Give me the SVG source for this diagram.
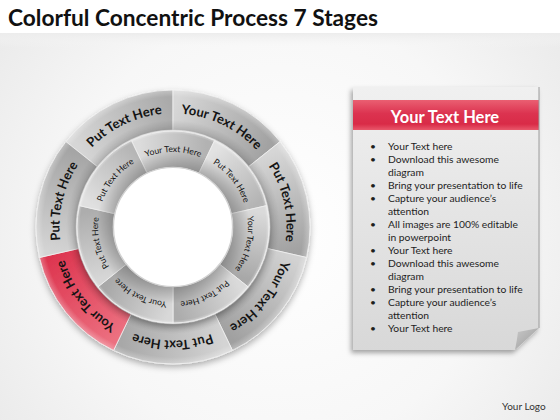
<svg xmlns="http://www.w3.org/2000/svg" width="560" height="420" viewBox="0 0 560 420">
<defs>
<style>
.t{font-family:Lato,"Open Sans","Liberation Sans",sans-serif;fill:#141414}
.ot{font-size:13px;font-weight:700}
.it{font-size:8.6px;font-weight:400}
.sep{stroke:#f0f0f0;stroke-width:0.8}
.bl{font-family:Lato,"Open Sans","Liberation Sans",sans-serif;font-size:10.3px;fill:#1e1e1e}
</style>
<radialGradient id="bg" cx="280" cy="230" r="360" gradientUnits="userSpaceOnUse">
<stop offset="0" stop-color="#ffffff"/><stop offset="0.6" stop-color="#f7f7f7"/><stop offset="1" stop-color="#e9e9e9"/>
</radialGradient>
<linearGradient id="band" x1="0" y1="0" x2="0" y2="1">
<stop offset="0" stop-color="#ececec"/><stop offset="1" stop-color="#f6f6f6" stop-opacity="0"/>
</linearGradient>
<linearGradient id="go1" gradientUnits="userSpaceOnUse" x1="80.8" y1="153.4" x2="173" y2="109"><stop offset="0" stop-color="#d6d6d6"/><stop offset="1" stop-color="#aaaaaa"/></linearGradient>
<linearGradient id="go2" gradientUnits="userSpaceOnUse" x1="173" y1="109" x2="265.2" y2="153.4"><stop offset="0" stop-color="#d7d7d7"/><stop offset="1" stop-color="#a2a2a2"/></linearGradient>
<linearGradient id="go3" gradientUnits="userSpaceOnUse" x1="265.2" y1="153.4" x2="288" y2="253.3"><stop offset="0" stop-color="#d6d6d6"/><stop offset="1" stop-color="#a2a2a2"/></linearGradient>
<linearGradient id="go4" gradientUnits="userSpaceOnUse" x1="288" y1="253.3" x2="224.2" y2="333.3"><stop offset="0" stop-color="#d2d2d2"/><stop offset="1" stop-color="#a0a0a0"/></linearGradient>
<linearGradient id="go5" gradientUnits="userSpaceOnUse" x1="224.2" y1="333.3" x2="121.8" y2="333.3"><stop offset="0" stop-color="#d4d4d4"/><stop offset="1" stop-color="#a8a8a8"/></linearGradient>
<linearGradient id="go6" gradientUnits="userSpaceOnUse" x1="121.8" y1="333.3" x2="58" y2="253.3"><stop offset="0" stop-color="#ec7080"/><stop offset="1" stop-color="#dd3650"/></linearGradient>
<linearGradient id="go7" gradientUnits="userSpaceOnUse" x1="58" y1="253.3" x2="80.8" y2="153.4"><stop offset="0" stop-color="#d4d4d4"/><stop offset="1" stop-color="#a5a5a5"/></linearGradient>
<linearGradient id="gi1" gradientUnits="userSpaceOnUse" x1="139.16" y1="156.72" x2="206.84" y2="156.72"><stop offset="0" stop-color="#dcdcdc"/><stop offset="1" stop-color="#b2b2b2"/></linearGradient>
<linearGradient id="gi2" gradientUnits="userSpaceOnUse" x1="206.84" y1="156.72" x2="249.04" y2="209.64"><stop offset="0" stop-color="#e2e2e2"/><stop offset="1" stop-color="#b4b4b4"/></linearGradient>
<linearGradient id="gi3" gradientUnits="userSpaceOnUse" x1="249.04" y1="209.64" x2="233.98" y2="275.63"><stop offset="0" stop-color="#dadada"/><stop offset="1" stop-color="#a8a8a8"/></linearGradient>
<linearGradient id="gi4" gradientUnits="userSpaceOnUse" x1="233.98" y1="275.63" x2="173" y2="305"><stop offset="0" stop-color="#dadada"/><stop offset="1" stop-color="#acacac"/></linearGradient>
<linearGradient id="gi5" gradientUnits="userSpaceOnUse" x1="173" y1="305" x2="112.02" y2="275.63"><stop offset="0" stop-color="#d8d8d8"/><stop offset="1" stop-color="#a8a8a8"/></linearGradient>
<linearGradient id="gi6" gradientUnits="userSpaceOnUse" x1="112.02" y1="275.63" x2="96.96" y2="209.64"><stop offset="0" stop-color="#d6d6d6"/><stop offset="1" stop-color="#adadad"/></linearGradient>
<linearGradient id="gi7" gradientUnits="userSpaceOnUse" x1="96.96" y1="209.64" x2="139.16" y2="156.72"><stop offset="0" stop-color="#e0e0e0"/><stop offset="1" stop-color="#b6b6b6"/></linearGradient>
<radialGradient id="innerShade" cx="173" cy="227" r="96" gradientUnits="userSpaceOnUse">
<stop offset="0.62" stop-color="#000" stop-opacity="0.22"/><stop offset="0.8" stop-color="#000" stop-opacity="0"/><stop offset="0.97" stop-color="#fff" stop-opacity="0"/><stop offset="1" stop-color="#fff" stop-opacity="0.35"/>
</radialGradient>
<radialGradient id="outerShade" cx="173" cy="227" r="137" gradientUnits="userSpaceOnUse">
<stop offset="0.7" stop-color="#000" stop-opacity="0.14"/><stop offset="0.78" stop-color="#000" stop-opacity="0"/><stop offset="0.95" stop-color="#fff" stop-opacity="0"/><stop offset="1" stop-color="#fff" stop-opacity="0.3"/>
</radialGradient>
<linearGradient id="paper" x1="0" y1="0" x2="0" y2="1">
<stop offset="0" stop-color="#f0f0f0"/><stop offset="1" stop-color="#d8d8d8"/>
</linearGradient>
<linearGradient id="red" x1="0" y1="0" x2="0" y2="1">
<stop offset="0" stop-color="#ea5f72"/><stop offset="0.45" stop-color="#dc3350"/><stop offset="0.8" stop-color="#d92b47"/><stop offset="1" stop-color="#e9586b"/>
</linearGradient>
<linearGradient id="curl" x1="0" y1="0" x2="1" y2="1">
<stop offset="0" stop-color="#c8c8c8"/><stop offset="1" stop-color="#9a9a9a"/>
</linearGradient>
<filter id="sh" x="-20%" y="-20%" width="140%" height="140%">
<feDropShadow dx="0" dy="3" stdDeviation="3" flood-color="#000" flood-opacity="0.3"/>
</filter>
<filter id="psh" x="-20%" y="-20%" width="140%" height="140%">
<feDropShadow dx="-2" dy="3" stdDeviation="2.5" flood-color="#000" flood-opacity="0.35"/>
</filter>
<path id="po" d="M 59.5 227 A 113.5 113.5 0 1 1 286.5 227 A 113.5 113.5 0 1 1 59.5 227 A 113.5 113.5 0 1 1 286.5 227 A 113.5 113.5 0 1 1 59.5 227"/>
<path id="pi" d="M 98 227 A 75 75 0 1 1 248 227 A 75 75 0 1 1 98 227 A 75 75 0 1 1 248 227 A 75 75 0 1 1 98 227"/>
</defs>

<rect width="560" height="420" fill="#ffffff"/>
<rect y="33" width="560" height="387" fill="url(#bg)"/>
<rect y="33" width="560" height="14" fill="url(#band)"/>

<text x="8" y="26" font-family="Lato,'Open Sans','Liberation Sans',sans-serif" font-size="22.7" font-weight="700" fill="#111">Colorful Concentric Process 7 Stages</text>

<g id="ring-outer" filter="url(#sh)">
<g id="o1"><path class="sep" fill="url(#go1)" d="M 65.89 141.58 A 137 137 0 0 1 173 90 L 173 130 A 97 97 0 0 0 97.16 166.52 Z"/></g>
<g id="o2"><path class="sep" fill="url(#go2)" d="M 173 90 A 137 137 0 0 1 280.11 141.58 L 248.84 166.52 A 97 97 0 0 0 173 130 Z"/></g>
<g id="o3"><path class="sep" fill="url(#go3)" d="M 280.11 141.58 A 137 137 0 0 1 306.57 257.49 L 267.57 248.58 A 97 97 0 0 0 248.84 166.52 Z"/></g>
<g id="o4"><path class="sep" fill="url(#go4)" d="M 306.57 257.49 A 137 137 0 0 1 232.44 350.43 L 215.09 314.39 A 97 97 0 0 0 267.57 248.58 Z"/></g>
<g id="o5"><path class="sep" fill="url(#go5)" d="M 232.44 350.43 A 137 137 0 0 1 113.56 350.43 L 130.91 314.39 A 97 97 0 0 0 215.09 314.39 Z"/></g>
<g id="o6"><path class="sep" fill="url(#go6)" d="M 113.56 350.43 A 137 137 0 0 1 39.43 257.49 L 78.43 248.58 A 97 97 0 0 0 130.91 314.39 Z"/></g>
<g id="o7"><path class="sep" fill="url(#go7)" d="M 39.43 257.49 A 137 137 0 0 1 65.89 141.58 L 97.16 166.52 A 97 97 0 0 0 78.43 248.58 Z"/></g>
</g>
<path d="M 173 90 A 137 137 0 1 1 172.99 90 Z M 173 130 A 97 97 0 1 0 173.01 130 Z" fill="url(#outerShade)" fill-rule="evenodd"/>

<g id="ring-inner" filter="url(#sh)">
<g id="i1"><path class="sep" fill="url(#gi1)" d="M 131.35 140.51 A 96 96 0 0 1 214.65 140.51 L 199.03 172.94 A 60 60 0 0 0 146.97 172.94 Z"/></g>
<g id="i2"><path class="sep" fill="url(#gi2)" d="M 214.65 140.51 A 96 96 0 0 1 266.59 205.64 L 231.50 213.65 A 60 60 0 0 0 199.03 172.94 Z"/></g>
<g id="i3"><path class="sep" fill="url(#gi3)" d="M 266.59 205.64 A 96 96 0 0 1 248.06 286.86 L 219.91 264.41 A 60 60 0 0 0 231.50 213.65 Z"/></g>
<g id="i4"><path class="sep" fill="url(#gi4)" d="M 248.06 286.86 A 96 96 0 0 1 173 323 L 173 287 A 60 60 0 0 0 219.91 264.41 Z"/></g>
<g id="i5"><path class="sep" fill="url(#gi5)" d="M 173 323 A 96 96 0 0 1 97.94 286.86 L 126.09 264.41 A 60 60 0 0 0 173 287 Z"/></g>
<g id="i6"><path class="sep" fill="url(#gi6)" d="M 97.94 286.86 A 96 96 0 0 1 79.41 205.64 L 114.50 213.65 A 60 60 0 0 0 126.09 264.41 Z"/></g>
<g id="i7"><path class="sep" fill="url(#gi7)" d="M 79.41 205.64 A 96 96 0 0 1 131.35 140.51 L 146.97 172.94 A 60 60 0 0 0 114.50 213.65 Z"/></g>
</g>
<path d="M 173 131 A 96 96 0 1 1 172.99 131 Z M 173 167 A 60 60 0 1 0 173.01 167 Z" fill="url(#innerShade)" fill-rule="evenodd"/>
<circle cx="173" cy="227" r="59.5" fill="#ffffff" stroke="#d0d0d0" stroke-width="1.2"/>

<g id="outer-labels" class="t ot" text-anchor="middle">
<text><textPath href="#po" startOffset="127.36">Put Text Here</textPath></text>
<text><textPath href="#po" startOffset="229.22">Your Text Here</textPath></text>
<text><textPath href="#po" startOffset="331.10">Put Text Here</textPath></text>
<text><textPath href="#po" startOffset="432.97">Your Text Here</textPath></text>
<text><textPath href="#po" startOffset="534.86">Put Text Here</textPath></text>
<text><textPath href="#po" startOffset="636.73">Your Text Here</textPath></text>
<text><textPath href="#po" startOffset="738.62">Put Text Here</textPath></text>
</g>
<g id="inner-labels" class="t it" text-anchor="middle">
<text><textPath href="#pi" startOffset="117.81">Your Text Here</textPath></text>
<text><textPath href="#pi" startOffset="185.13">Put Text Here</textPath></text>
<text><textPath href="#pi" startOffset="252.45">Your Text Here</textPath></text>
<text><textPath href="#pi" startOffset="319.77">Put Text Here</textPath></text>
<text><textPath href="#pi" startOffset="387.08">Your Text Here</textPath></text>
<text><textPath href="#pi" startOffset="454.40">Put Text Here</textPath></text>
<text><textPath href="#pi" startOffset="521.72">Put Text Here</textPath></text>
</g>

<g id="panel">
<path d="M 353 87 L 539 87 L 539 328 L 515 350 L 353 350 Z" fill="url(#paper)" filter="url(#psh)"/>
<rect x="353" y="100" width="186" height="30" fill="url(#red)"/>
<line x1="539" y1="87" x2="539" y2="328" stroke="#9c9c9c" stroke-width="1"/>
<path d="M 539 328 L 515 350 Q 517 340 518 332 Z" fill="url(#curl)"/>
<text x="445" y="123" text-anchor="middle" font-family="Lato,'Open Sans','Liberation Sans',sans-serif" font-size="16.5" font-weight="700" fill="#ffffff">Your Text Here</text>
<g class="bl">
<text x="370" y="150">•</text><text x="388" y="150">Your Text here</text>
<text x="370" y="163">•</text><text x="388" y="163">Download this awesome</text>
<text x="388" y="176">diagram</text>
<text x="370" y="189">•</text><text x="388" y="189">Bring your presentation to life</text>
<text x="370" y="202">•</text><text x="388" y="202">Capture your audience’s</text>
<text x="388" y="215">attention</text>
<text x="370" y="228">•</text><text x="388" y="228">All images are 100% editable</text>
<text x="388" y="241">in powerpoint</text>
<text x="370" y="254">•</text><text x="388" y="254">Your Text here</text>
<text x="370" y="267">•</text><text x="388" y="267">Download this awesome</text>
<text x="388" y="280">diagram</text>
<text x="370" y="293">•</text><text x="388" y="293">Bring your presentation to life</text>
<text x="370" y="306">•</text><text x="388" y="306">Capture your audience’s</text>
<text x="388" y="319">attention</text>
<text x="370" y="332">•</text><text x="388" y="332">Your Text here</text>
</g>
</g>

<text x="502" y="410" font-family="Lato,'Open Sans','Liberation Sans',sans-serif" font-size="10" fill="#333">Your Logo</text>
</svg>
